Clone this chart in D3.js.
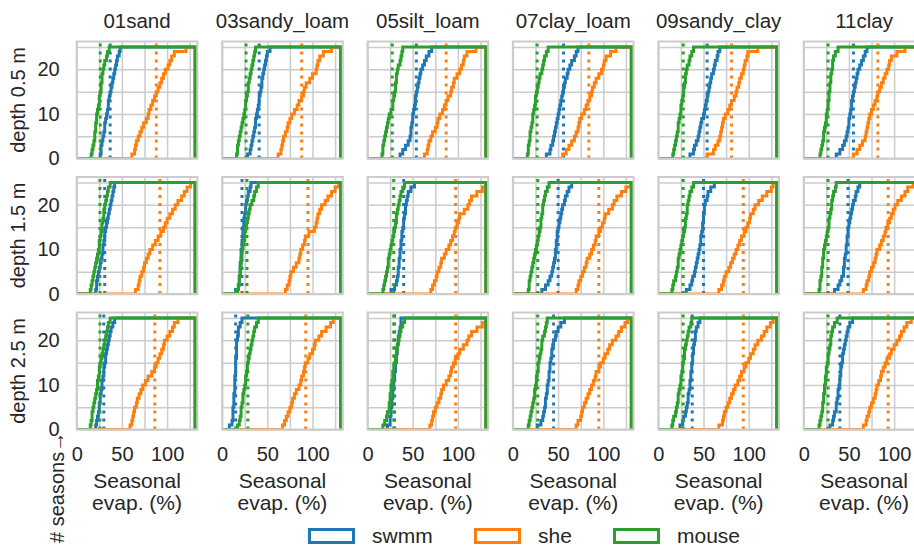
<!DOCTYPE html>
<html>
<head>
<meta charset="utf-8">
<script src="https://cdn.jsdelivr.net/npm/d3@7"></script>
<style>
  body { margin: 0; background: #fff; }
  svg { display: block; font-family: "Liberation Sans", Arial, sans-serif; }
</style>
</head>
<body>
<div class="chart"></div>
<script>
// soils (columns), depths (rows), models (series)
var soils = ["01sand", "03sandy_loam", "05silt_loam", "07clay_loam", "09sandy_clay", "11clay"];
var depths = ["0.5", "1.5", "2.5"];
var models = ["swmm", "she", "mouse"];
var colors = ["#1f77b4", "#ff7f0e", "#2ca02c"];
var xTicks = [0, 50, 100];
var yTicks = [0, 10, 20];
var xGrid = [0, 25, 50, 75, 100, 125];
var yGrid = [0, 5, 10, 15, 20, 25];

// seasonal evaporation (%) per season, one list per soil
var swmm05 = [
  [26,27,27,28,29,30,31,31,32,33,34,35,35,36,37,38,39,40,41,42,43,44,45,47,48],
  [28,31,32,33,34,35,36,37,37,38,39,40,41,41,42,43,44,44,45,46,47,48,49,50,53],
  [36,39,42,45,47,48,48,49,50,50,51,52,53,53,54,55,56,57,58,59,61,63,65,68,71],
  [37,41,42,44,45,46,47,48,49,50,51,52,53,54,55,56,57,58,60,61,63,65,68,70,72],
  [35,39,40,42,44,45,46,47,48,50,51,52,53,54,55,56,57,58,59,61,62,63,65,66,68],
  [36,40,43,45,47,48,49,50,50,51,52,53,53,54,55,56,57,58,59,60,62,64,66,68,70]
];
var she05 = [
  [61,64,65,66,68,70,72,74,77,79,80,82,84,86,88,90,92,94,96,98,101,103,105,108,121],
  [62,65,66,67,68,70,72,73,75,77,80,83,85,88,90,91,93,97,100,104,105,106,108,112,121],
  [63,66,67,68,70,72,75,77,78,80,83,85,87,89,92,93,95,96,99,102,104,106,107,110,120],
  [55,59,62,65,68,70,72,73,74,76,79,81,83,85,87,88,90,92,95,98,100,101,103,108,114],
  [54,61,63,66,68,69,70,71,72,74,77,79,81,84,86,87,89,90,92,94,95,96,98,99,110],
  [55,59,62,65,68,69,70,71,72,73,75,77,79,81,82,84,86,88,90,92,94,95,97,103,112]
];
var mouse05 = [
  [16,17,18,19,20,20,21,21,22,22,23,24,25,25,26,27,27,28,28,29,30,31,33,34,36],
  [16,17,17,18,19,20,21,22,23,24,25,26,26,27,28,29,29,30,31,32,33,34,35,36,37],
  [16,17,17,18,19,20,21,22,23,24,26,28,28,29,30,31,31,32,32,33,34,36,37,38,39],
  [16,17,17,18,19,19,20,21,22,22,23,24,25,25,26,27,28,29,30,32,33,34,35,37,39],
  [16,17,18,19,20,21,22,22,23,24,25,25,26,27,28,28,29,30,30,31,32,34,35,37,39],
  [18,19,20,21,22,22,23,24,25,25,26,27,27,28,28,29,29,30,30,31,32,32,33,35,38]
];
var swmm15 = [
  [21,22,22,23,24,25,26,27,28,29,29,30,31,31,32,33,34,35,36,37,38,39,40,41,42],
  [15,18,19,19,20,20,20,21,21,21,22,22,23,23,23,24,24,25,26,26,27,28,29,31,32],
  [26,30,32,33,34,34,35,35,36,36,37,37,38,38,39,40,40,41,42,42,43,44,45,48,52],
  [32,36,39,41,43,44,45,46,47,47,48,48,49,49,50,51,52,53,54,55,57,58,60,62,65],
  [31,35,37,38,40,41,42,43,44,45,46,47,47,48,49,49,50,50,51,51,52,54,55,58,62],
  [34,38,40,42,44,44,45,45,46,47,47,48,48,49,49,50,51,52,53,54,55,57,58,60,62]
];
var she15 = [
  [65,68,69,70,72,74,75,77,79,81,84,87,90,93,96,98,100,103,106,109,112,116,119,122,126],
  [70,72,74,75,76,79,82,85,86,87,89,91,92,96,102,104,105,106,108,110,114,117,121,125,129],
  [70,72,74,76,77,79,81,82,85,87,90,92,94,96,97,99,101,102,107,111,113,115,121,127,131],
  [70,72,73,75,77,79,81,82,85,87,89,91,92,95,97,99,101,102,106,110,112,115,120,125,130],
  [67,70,72,73,75,78,80,82,84,86,88,90,92,95,97,99,101,102,105,107,111,115,120,125,127],
  [66,69,70,72,73,75,77,79,80,81,84,86,88,90,91,93,95,97,99,101,104,108,112,115,121]
];
var mouse15 = [
  [15,16,17,18,19,20,21,22,23,24,25,25,26,27,28,28,29,30,30,31,32,33,34,35,37],
  [17,18,19,19,20,20,21,21,22,22,23,24,25,25,26,27,28,29,30,31,33,35,36,38,40],
  [17,18,19,20,21,22,23,23,24,25,26,27,28,29,30,31,32,32,33,34,35,36,37,39,41],
  [17,18,18,19,20,21,22,23,24,25,26,27,28,29,30,31,31,32,33,33,34,35,36,38,40],
  [15,16,17,19,20,21,22,22,23,24,25,26,27,28,29,30,30,31,32,32,33,34,35,37,39],
  [17,18,18,19,20,20,21,21,22,22,23,24,25,26,27,28,28,29,30,31,31,32,33,35,36]
];
var swmm25 = [
  [21,22,23,24,25,25,26,26,27,28,28,29,30,30,31,32,32,33,34,35,36,37,38,40,42],
  [8,11,12,12,12,13,13,13,14,14,14,14,15,15,15,15,16,16,16,16,17,18,18,20,22],
  [22,25,25,26,26,27,27,28,28,29,29,30,30,31,31,32,32,33,33,34,34,35,36,37,37],
  [27,31,33,34,35,36,36,37,38,38,39,40,40,41,41,42,43,43,44,45,47,48,50,53,57],
  [24,27,28,30,31,32,33,33,34,35,35,36,36,37,37,38,38,39,39,40,41,41,42,44,46],
  [29,32,33,34,36,36,37,38,38,39,40,40,41,41,42,43,43,44,45,46,47,48,49,51,54]
];
var she25 = [
  [59,61,62,63,64,66,67,69,71,73,76,79,83,86,88,90,92,94,96,97,100,103,106,108,112],
  [67,69,71,73,75,77,78,80,82,85,87,88,90,91,92,95,97,100,102,103,107,110,115,120,123],
  [69,71,72,73,75,77,79,81,82,84,87,90,92,93,95,97,100,102,106,110,112,115,121,127,131],
  [70,72,75,76,77,79,81,83,85,87,89,91,92,95,97,100,102,105,107,110,114,117,120,124,127],
  [67,71,72,73,75,77,79,81,83,85,88,90,92,95,97,100,102,105,107,110,114,117,120,124,127],
  [66,69,70,72,73,75,77,79,80,81,83,85,86,88,90,92,95,97,100,103,106,108,111,114,119]
];
var mouse25 = [
  [15,16,17,17,18,19,20,21,22,23,23,24,25,25,26,27,28,29,30,31,32,33,34,35,37],
  [17,19,20,21,21,22,23,23,24,25,26,26,27,28,28,29,30,31,32,33,34,35,36,38,40],
  [17,19,21,22,24,24,25,25,26,26,27,28,28,29,30,31,32,32,33,34,35,36,37,39,41],
  [17,18,19,20,21,22,23,24,24,25,26,26,27,28,28,29,30,31,32,32,33,35,36,37,38],
  [15,16,17,19,20,21,22,22,23,24,25,25,26,27,27,28,29,29,30,31,32,33,34,36,37],
  [17,18,19,20,21,21,22,22,23,23,24,24,25,25,26,27,27,28,29,30,30,31,32,34,37]
];

// dotted reference lines (rows = depths, columns = soils)
var swmmMean = [[37, 41, 54, 56, 54, 55], [31, 22, 40, 50, 50, 49], [30, 15, 30, 45, 37.5, 40]];
var sheMean = [[88, 88, 87, 84, 81, 82], [92, 95, 97.5, 95, 94, 93.4], [86.4, 92.5, 97.5, 95, 94, 93.4]];
var mouseMean = [[26, 26.5, 27.4, 26.8, 27.6, 27], [25.7, 27.5, 29, 27.5, 27.5, 27], [25.7, 28.5, 29, 27.5, 27.5, 27]];

var binEnd = 131;

function init() {
    var w = 914, h = 545;
    var left0 = 76.7, colStep = 145.4, pw = 120.7, ph = 117;
    var tops = [41.5, 177, 312.5];
    var font = "'Liberation Sans', Arial, sans-serif";

    var seriesByRow = [
        [swmm05, she05, mouse05],
        [swmm15, she15, mouse15],
        [swmm25, she25, mouse25]
    ];
    var meanLists = [swmmMean, sheMean, mouseMean];

    var svg = d3.select(".chart").append("svg")
        .attr("width", w)
        .attr("height", h);

    var x = d3.scaleLinear().domain([0, 133.5]).range([0, pw]);
    var y = d3.scaleLinear().domain([0, 26.25]).range([ph, 0]);

    var line = d3.line()
        .x(function(d) { return x(d[0]); })
        .y(function(d) { return y(d[1]); })
        .curve(d3.curveStepAfter);

    svg.append("defs").append("clipPath")
        .attr("id", "panelClip")
        .append("rect")
        .attr("width", pw)
        .attr("height", ph);

    depths.forEach(function(depth, r) {
        soils.forEach(function(soil, c) {
            var g = svg.append("g")
                .attr("transform", "translate(" + (left0 + c * colStep) + "," + tops[r] + ")");

            // grid
            g.append("g")
                .call(d3.axisBottom(x).tickValues(xGrid).tickSize(-ph).tickFormat(""))
                .attr("transform", "translate(0," + ph + ")")
                .call(function(s) {
                    s.select(".domain").remove();
                    s.selectAll("line").attr("stroke", "#cccccc").attr("stroke-width", 1.5);
                });
            g.append("g")
                .call(d3.axisLeft(y).tickValues(yGrid).tickSize(-pw).tickFormat(""))
                .call(function(s) {
                    s.select(".domain").remove();
                    s.selectAll("line").attr("stroke", "#cccccc").attr("stroke-width", 1.5);
                });

            var plot = g.append("g").attr("clip-path", "url(#panelClip)");

            models.forEach(function(m, k) {
                var vals = seriesByRow[r][k][c];
                var pts = [[0, 0]];
                vals.forEach(function(v, i) { pts.push([v, i + 1]); });
                pts.push([binEnd, vals.length]);
                pts.push([binEnd, 0]);

                plot.append("path")
                    .datum(pts)
                    .attr("d", line)
                    .attr("fill", "none")
                    .attr("stroke", colors[k])
                    .attr("stroke-width", 3);

                var mv = meanLists[k][r][c];
                plot.append("line")
                    .attr("x1", x(mv)).attr("x2", x(mv))
                    .attr("y1", ph).attr("y2", 0)
                    .attr("stroke", colors[k])
                    .attr("stroke-width", 3)
                    .attr("stroke-dasharray", "3,5");
            });

            // frame
            g.append("rect")
                .attr("width", pw)
                .attr("height", ph)
                .attr("fill", "none")
                .attr("stroke", "#cccccc")
                .attr("stroke-width", 2);

            if (c === 0) {
                var ya = g.append("g")
                    .call(d3.axisLeft(y).tickValues(yTicks).tickSize(0).tickPadding(17).tickFormat(d3.format("d")));
                ya.select(".domain").remove();
                ya.selectAll("text").attr("font-family", font).attr("font-size", "20px").attr("fill", "#262626");

                svg.append("text")
                    .attr("transform", "translate(25," + (tops[r] + ph / 2) + ") rotate(-90)")
                    .attr("text-anchor", "middle")
                    .attr("font-family", font)
                    .attr("font-size", "20px")
                    .attr("fill", "#262626")
                    .text("depth " + depth + " m");
            }
            if (r === 0) {
                svg.append("text")
                    .attr("x", left0 + c * colStep + pw / 2)
                    .attr("y", 28)
                    .attr("text-anchor", "middle")
                    .attr("font-family", font)
                    .attr("font-size", "20.5px")
                    .attr("fill", "#262626")
                    .text(soil);
            }
            if (r === depths.length - 1) {
                var xa = g.append("g")
                    .attr("transform", "translate(0," + ph + ")")
                    .call(d3.axisBottom(x).tickValues(xTicks).tickSize(0).tickPadding(17).tickFormat(d3.format("d")));
                xa.select(".domain").remove();
                xa.selectAll("text").attr("font-family", font).attr("font-size", "20px").attr("fill", "#262626");

                var lab = svg.append("text")
                    .attr("x", left0 + c * colStep + pw / 2)
                    .attr("y", 488)
                    .attr("text-anchor", "middle")
                    .attr("font-family", font)
                    .attr("font-size", "21px")
                    .attr("fill", "#262626");
                lab.append("tspan").attr("x", left0 + c * colStep + pw / 2).text("Seasonal");
                lab.append("tspan").attr("x", left0 + c * colStep + pw / 2).attr("dy", 22).text("evap. (%)");
            }
        });
    });

    // y label
    svg.append("text")
        .attr("transform", "translate(64,543) rotate(-90)")
        .attr("font-family", font)
        .attr("font-size", "20px")
        .attr("fill", "#262626")
        .text("# seasons\u2192");

    // legend
    var legX = [308, 474, 613];
    models.forEach(function(m, k) {
        svg.append("rect")
            .attr("x", legX[k] + 1.5)
            .attr("y", 529.5)
            .attr("width", 44)
            .attr("height", 13)
            .attr("fill", "#fff")
            .attr("stroke", colors[k])
            .attr("stroke-width", 3);
        svg.append("text")
            .attr("x", legX[k] + 64)
            .attr("y", 543)
            .attr("font-family", font)
            .attr("font-size", "21px")
            .attr("fill", "#262626")
            .text(m);
    });
}

window.onload = init;
</script>
</body>
</html>
